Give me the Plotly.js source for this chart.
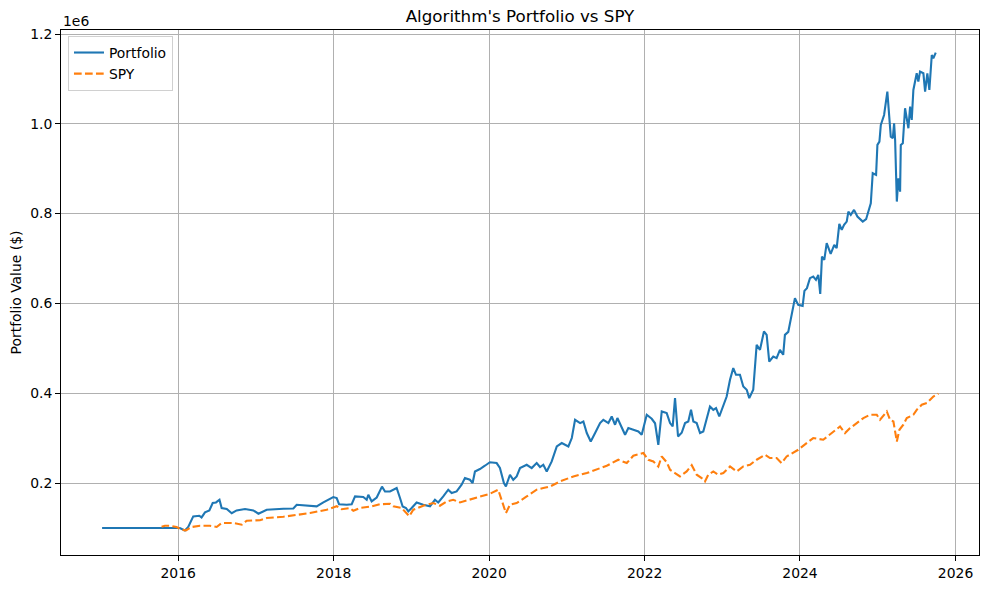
<!DOCTYPE html>
<html>
<head>
<meta charset="utf-8">
<script src="https://cdn.plot.ly/plotly-3.0.1.min.js"></script>
<style>html,body{margin:0;padding:0;background:#fff;}#chart{width:989px;height:589px;}</style>
</head>
<body>
<div id="chart"></div>
<script>
// Dates as decimal years, values in thousands of dollars
const portfolioYear = [2015.02,2016.0,2016.02,2016.086,2016.129,2016.193,2016.27,2016.30,2016.344,2016.40,2016.443,2016.485,2016.53,2016.558,2016.623,2016.687,2016.75,2016.858,2016.965,2017.03,2017.094,2017.137,2017.351,2017.48,2017.523,2017.643,2017.78,2017.866,2017.994,2018.038,2018.068,2018.167,2018.231,2018.274,2018.38,2018.424,2018.445,2018.488,2018.553,2018.621,2018.66,2018.724,2018.81,2018.853,2018.887,2018.93,2018.96,2019.003,2019.067,2019.152,2019.239,2019.303,2019.345,2019.41,2019.474,2019.518,2019.582,2019.646,2019.689,2019.753,2019.788,2019.818,2019.882,2019.946,2020.01,2020.097,2020.139,2020.19,2020.216,2020.268,2020.31,2020.354,2020.397,2020.483,2020.547,2020.611,2020.654,2020.696,2020.74,2020.804,2020.869,2020.933,2020.976,2021.018,2021.062,2021.104,2021.169,2021.211,2021.255,2021.306,2021.362,2021.426,2021.468,2021.533,2021.576,2021.619,2021.649,2021.705,2021.748,2021.79,2021.854,2021.919,2021.962,2022.027,2022.091,2022.134,2022.176,2022.22,2022.284,2022.327,2022.361,2022.391,2022.43,2022.477,2022.52,2022.562,2022.597,2022.627,2022.67,2022.713,2022.755,2022.799,2022.841,2022.884,2022.919,2022.961,2023.013,2023.056,2023.099,2023.141,2023.176,2023.227,2023.27,2023.314,2023.347,2023.398,2023.442,2023.485,2023.536,2023.571,2023.604,2023.656,2023.699,2023.742,2023.784,2023.806,2023.849,2023.892,2023.935,2023.977,2024.034,2024.057,2024.089,2024.128,2024.17,2024.205,2024.235,2024.26,2024.282,2024.312,2024.343,2024.394,2024.44,2024.471,2024.505,2024.536,2024.566,2024.6,2024.621,2024.652,2024.694,2024.737,2024.806,2024.849,2024.865,2024.909,2024.934,2024.977,2024.994,2025.02,2025.038,2025.08,2025.122,2025.166,2025.192,2025.209,2025.222,2025.244,2025.264,2025.286,2025.295,2025.321,2025.35,2025.393,2025.415,2025.436,2025.457,2025.5,2025.521,2025.543,2025.586,2025.608,2025.637,2025.663,2025.694,2025.714,2025.745];
const portfolioValueK = [100,100,100,94.5,102.1,125.7,127.2,123.4,134.6,139,155.5,156.8,162.8,144.4,142.1,132.8,139,142.1,139,131.7,136.8,140.6,142.8,143.3,151.7,149.5,148,156.8,168.8,166.6,152.8,151.7,152.8,170.2,168.8,162.8,174,159,167.7,192,181.3,181.3,188.9,166.6,147.9,144.4,136.8,144.4,156.8,151.7,148,162.8,156.8,170.2,185.1,177.7,181.3,196.2,211.1,207.3,200,225.8,231.2,238.5,246.3,244.5,233.4,200,192.4,218.5,207.3,214.7,233.4,240.7,233.4,244.5,235.6,240.7,225.8,248.1,281.5,289,285.2,281.5,300.2,340.9,333.5,337.1,311.3,292.6,311.3,333.5,340.9,333.5,348.2,329.8,344.7,322.4,307.5,322.4,318.6,314.8,307.5,352,343.1,333.1,285.2,359.4,355.8,333.5,326,389.2,303.7,312,333.5,337.1,363.1,337.1,333.5,311.3,314.8,340.9,370.5,363.1,366.9,348.2,370.5,392.7,429.9,456,441,441,415,407.7,389.2,407.7,507.8,496.7,537.4,530,470.6,481.8,478.2,496.7,485.6,530,536.7,578.4,611.8,596.8,594.6,628,634,656.3,659.8,652.5,663.6,621.3,704.3,697,734.2,710.4,730.4,723,777.1,763.8,774.9,782.2,804.5,797.2,808.3,793.4,782.2,787.6,797.2,823.2,890,886.2,953,960.3,997.5,1019.7,1071.6,971.4,967.9,1001.3,964.1,826.8,878.8,849,953,956.7,1034.6,990.1,1038.2,1008.6,1075.4,1112.5,1093.9,1116.1,1112.5,1071.6,1112.5,1075.4,1153.3,1145.9,1158.4];

const spyYear = [2015.786,2015.829,2015.893,2015.979,2016.044,2016.1,2016.172,2016.28,2016.408,2016.494,2016.558,2016.708,2016.816,2016.88,2017.05,2017.137,2017.351,2017.523,2017.695,2017.909,2018.038,2018.102,2018.209,2018.252,2018.338,2018.488,2018.595,2018.724,2018.766,2018.874,2018.93,2018.972,2019.024,2019.152,2019.281,2019.367,2019.453,2019.538,2019.625,2019.711,2019.839,2020.01,2020.117,2020.161,2020.216,2020.268,2020.354,2020.483,2020.611,2020.696,2020.783,2020.911,2021.082,2021.255,2021.383,2021.512,2021.661,2021.77,2021.854,2021.919,2021.983,2022.047,2022.112,2022.176,2022.22,2022.284,2022.327,2022.391,2022.455,2022.541,2022.606,2022.67,2022.734,2022.777,2022.819,2022.884,2022.948,2023.013,2023.099,2023.185,2023.27,2023.356,2023.442,2023.549,2023.613,2023.699,2023.763,2023.828,2023.913,2023.977,2024.085,2024.17,2024.299,2024.385,2024.471,2024.514,2024.578,2024.643,2024.729,2024.814,2024.9,2024.986,2025.028,2025.115,2025.157,2025.2,2025.244,2025.277,2025.328,2025.372,2025.457,2025.5,2025.565,2025.63,2025.714,2025.779];
const spyValueK = [102.7,105,105,102.1,96,94.5,102.1,105,105,102.1,111,111,107.2,116.1,117.2,122.1,125,128.3,133.2,140.6,148.4,141.7,144.4,138.3,144.4,148,152.8,153.9,148,144.4,133.2,126.1,140.6,149.5,155.5,149.5,159,162.8,156.8,161.3,168.4,176.2,185.1,162.8,133.2,151.7,155.5,170.2,185.1,188.9,192.4,203.6,214.7,222.3,231.2,238.5,251.9,244.5,260.8,263,266.8,251.9,248.1,236.9,259.2,246.3,229.6,222.3,214.7,225.8,239.6,218.5,211.1,203.6,218.5,225.8,218.5,222.3,236.9,225.8,236.9,240.7,251.9,263,255.6,255.6,244.5,259.2,266.8,274.1,289,300.2,296.4,307.5,318.6,326,311.3,322.4,333.5,344.7,352,352,340.9,359.4,340.9,337.1,292.6,318.6,329.8,344.7,352,363.1,374.3,378.1,392.7,398.8];

const yTickVals = [200000,400000,600000,800000,1000000,1200000];
const yTickText = ["0.2","0.4","0.6","0.8","1.0","1.2"];
const xTickLabels = ["2016","2018","2020","2022","2024","2026"];

function yearToDate(y){
  const yr = Math.floor(y);
  const s = Date.UTC(yr,0,1), e = Date.UTC(yr+1,0,1);
  return new Date(s + (y-yr)*(e-s)).toISOString().slice(0,19).replace('T',' ');
}
const toDollars = a => a.map(v => v*1000);

const FONT = "DejaVu Sans, sans-serif";

const traces = [
  {x: portfolioYear.map(yearToDate), y: toDollars(portfolioValueK), name: "Portfolio",
   type: "scatter", mode: "lines", line: {color: "#1f77b4", width: 2.1}},
  {x: spyYear.map(yearToDate), y: toDollars(spyValueK), name: "SPY",
   type: "scatter", mode: "lines", line: {color: "#ff7f0e", width: 2.1, dash: "7.7px,3.3px"}}
];

const layout = {
  width: 989, height: 589,
  margin: {l: 61, r: 10, t: 30, b: 34, pad: 0},
  paper_bgcolor: "#fff", plot_bgcolor: "#fff",
  font: {family: FONT, size: 13.9, color: "#000"},
  title: {text: "Algorithm's Portfolio vs SPY", font: {family: FONT, size: 16.7, color: "#000"},
          x: 0.5, xref: "paper", xanchor: "center", y: 1 - 16/589, yref: "container", yanchor: "middle"},
  showlegend: true,
  legend: {x: 0.0076, y: 0.9886, xanchor: "left", yanchor: "top", bgcolor: "rgba(255,255,255,0.8)",
           bordercolor: "#d0d0d0", borderwidth: 1, font: {family: FONT, size: 13.9, color: "#000"},
           tracegroupgap: 0, itemwidth: 30},
  xaxis: {
    type: "date",
    range: [yearToDate(2014.491), yearToDate(2026.302)],
    tickvals: xTickLabels.map(t => t + "-01-01"),
    ticktext: xTickLabels,
    showgrid: true, gridcolor: "#b0b0b0", gridwidth: 1,
    showline: true, linecolor: "#000", linewidth: 1, mirror: true,
    ticks: "outside", ticklen: 5, tickwidth: 1, tickcolor: "#000",
    zeroline: false, tickfont: {family: FONT, size: 13.9, color: "#000"}
  },
  yaxis: {
    range: [39750, 1208900],
    tickvals: yTickVals, ticktext: yTickText,
    showgrid: true, gridcolor: "#b0b0b0", gridwidth: 1,
    showline: true, linecolor: "#000", linewidth: 1, mirror: true,
    ticks: "outside", ticklen: 5, tickwidth: 1, tickcolor: "#000",
    zeroline: false, tickfont: {family: FONT, size: 13.9, color: "#000"},
    title: {text: "Portfolio Value ($)", font: {family: FONT, size: 13.9, color: "#000"}, standoff: 5}
  },
  annotations: [
    {text: "1e6", xref: "paper", yref: "paper", x: 0, y: 1.0171, xanchor: "left", yanchor: "middle",
     showarrow: false, font: {family: FONT, size: 13.9, color: "#000"}}
  ]
};

Plotly.newPlot("chart", traces, layout, {displayModeBar: false, staticPlot: true});
</script>
</body>
</html>
